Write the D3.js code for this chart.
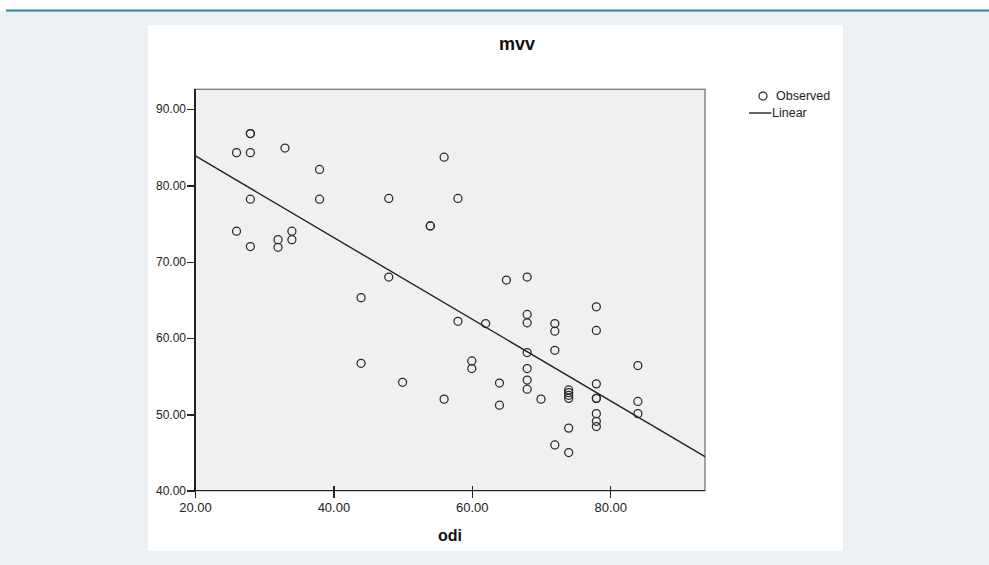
<!DOCTYPE html>
<meta charset="utf-8">
<style>
    body {
        margin: 0;
        background-color: #fff;
    }

    svg text {
        font-family: "Liberation Sans", Arial, sans-serif;
    }

    .axis path,
    .axis line {
        stroke: #222;
        stroke-width: 1.5px;
        shape-rendering: crispEdges;
    }

    .axis text {
        fill: #222;
    }

    .dot {
        fill: none;
        stroke: #2a2a2a;
        stroke-width: 1.25px;
    }

    .fit {
        fill: none;
        stroke: #222;
        stroke-width: 1.4px;
    }
</style>

<body>
    <svg width="989" height="565"></svg>
</body>
<script src="https://d3js.org/d3.v7.min.js"></script>
<script>
    // odi (x) and mvv (y)
    var odi = [26, 28, 28, 28, 33, 38, 28, 38, 48, 56,
        54, 54, 26, 28, 32, 32, 34, 34, 48, 44,
        44, 50, 56, 58, 65, 68, 58, 62, 68, 68,
        72, 72, 78, 78, 68, 72, 60, 60, 68, 64,
        68, 68, 70, 74, 74, 74, 74, 78, 78, 78,
        84, 84, 84, 64, 78, 78, 78, 74, 72, 74];
    var mvv = [84.3, 84.3, 86.8, 86.8, 84.9, 82.1, 78.2, 78.2, 78.3, 83.7,
        74.7, 74.7, 74.0, 72.0, 72.9, 71.9, 74.0, 72.9, 68.0, 65.3,
        56.7, 54.2, 52.0, 78.3, 67.6, 68.0, 62.2, 61.9, 63.1, 62.0,
        61.9, 60.9, 64.1, 61.0, 58.1, 58.4, 57.0, 56.0, 56.0, 54.1,
        54.5, 53.3, 52.0, 53.2, 52.85, 52.5, 52.1, 54.0, 52.1, 52.1,
        56.4, 51.7, 50.1, 51.2, 50.1, 49.1, 48.4, 48.2, 46.0, 45.0];

    // linear fit: mvv = intercept + slope * odi
    var fitCoef = [94.6, -0.535];

    var xTicks = [20, 40, 60, 80];
    var yTicks = [40, 50, 60, 70, 80, 90];
    var xDomain = [20, 93.7];
    var yDomain = [40, 92.6];

    var legendLabels = ["Observed", "Linear"];

    var svg = d3.select("svg");

    // page backdrop
    svg.append("rect")
        .attr("x", 0).attr("y", 11)
        .attr("width", 989).attr("height", 554)
        .attr("fill", "#eef1f4");
    svg.append("line")
        .attr("x1", 6).attr("x2", 989)
        .attr("y1", 10.5).attr("y2", 10.5)
        .attr("stroke", "#1b8c9c")
        .attr("stroke-width", 2);

    // white chart panel
    svg.append("rect")
        .attr("x", 148).attr("y", 25)
        .attr("width", 695).attr("height", 526)
        .attr("fill", "#fff");

    var margin = { top: 89.3, left: 195 },
        width = 705 - 195,
        height = 490.7 - 89.3;

    var x = d3.scaleLinear().domain(xDomain).range([0, width]);
    var y = d3.scaleLinear().domain(yDomain).range([height, 0]);

    var g = svg.append("g")
        .attr("transform", "translate(" + margin.left + "," + margin.top + ")");

    g.append("rect")
        .attr("width", width)
        .attr("height", height)
        .attr("fill", "#f0f0f0")
        .attr("stroke", "#777")
        .attr("stroke-width", 1.3);

    // axes
    var xAxis = g.append("g")
        .attr("class", "axis axis--x")
        .attr("transform", "translate(0," + height + ")")
        .call(d3.axisBottom(x).tickValues(xTicks).tickFormat(d3.format(".2f"))
            .tickSizeOuter(0).tickSizeInner(7).tickPadding(5));
    xAxis.selectAll(".tick line").attr("y1", -5);
    xAxis.selectAll("text").style("font-size", "13px");
    xAxis.select(".domain").attr("d", "M0,0H" + width);

    var yAxis = g.append("g")
        .attr("class", "axis axis--y")
        .call(d3.axisLeft(y).tickValues(yTicks).tickFormat(d3.format(".2f"))
            .tickSizeOuter(0).tickSizeInner(8).tickPadding(1));
    yAxis.selectAll("text").style("font-size", "12px");
    yAxis.select(".domain").attr("d", "M0,0V" + height);

    // fit line
    g.append("path")
        .datum(xDomain)
        .attr("class", "fit")
        .attr("d", d3.line()
            .x(function(d) { return x(d); })
            .y(function(d) { return y(fitCoef[0] + fitCoef[1] * d); }));

    // observed points
    g.selectAll(".dot")
        .data(odi)
        .enter().append("circle")
        .attr("class", "dot")
        .attr("r", 4)
        .attr("cx", function(d) { return x(d); })
        .attr("cy", function(d, i) { return y(mvv[i]); });

    // titles
    svg.append("text")
        .attr("x", 517)
        .attr("y", 50)
        .attr("text-anchor", "middle")
        .style("font-size", "18px")
        .style("font-weight", "bold")
        .attr("fill", "#111")
        .text("mvv");

    svg.append("text")
        .attr("x", margin.left + width / 2)
        .attr("y", 541)
        .attr("text-anchor", "middle")
        .style("font-size", "16px")
        .style("font-weight", "bold")
        .attr("fill", "#111")
        .text("odi");

    // legend
    var legend = svg.append("g").attr("transform", "translate(749,96)");
    legend.append("circle")
        .attr("class", "dot")
        .attr("cx", 14).attr("cy", 0).attr("r", 4);
    legend.append("text")
        .attr("x", 27).attr("y", 4)
        .style("font-size", "12.5px")
        .attr("fill", "#222")
        .text(legendLabels[0]);
    legend.append("line")
        .attr("class", "fit")
        .attr("x1", 0).attr("x2", 22.5)
        .attr("y1", 17).attr("y2", 17);
    legend.append("text")
        .attr("x", 23).attr("y", 21)
        .style("font-size", "12.5px")
        .attr("fill", "#222")
        .text(legendLabels[1]);
</script>
